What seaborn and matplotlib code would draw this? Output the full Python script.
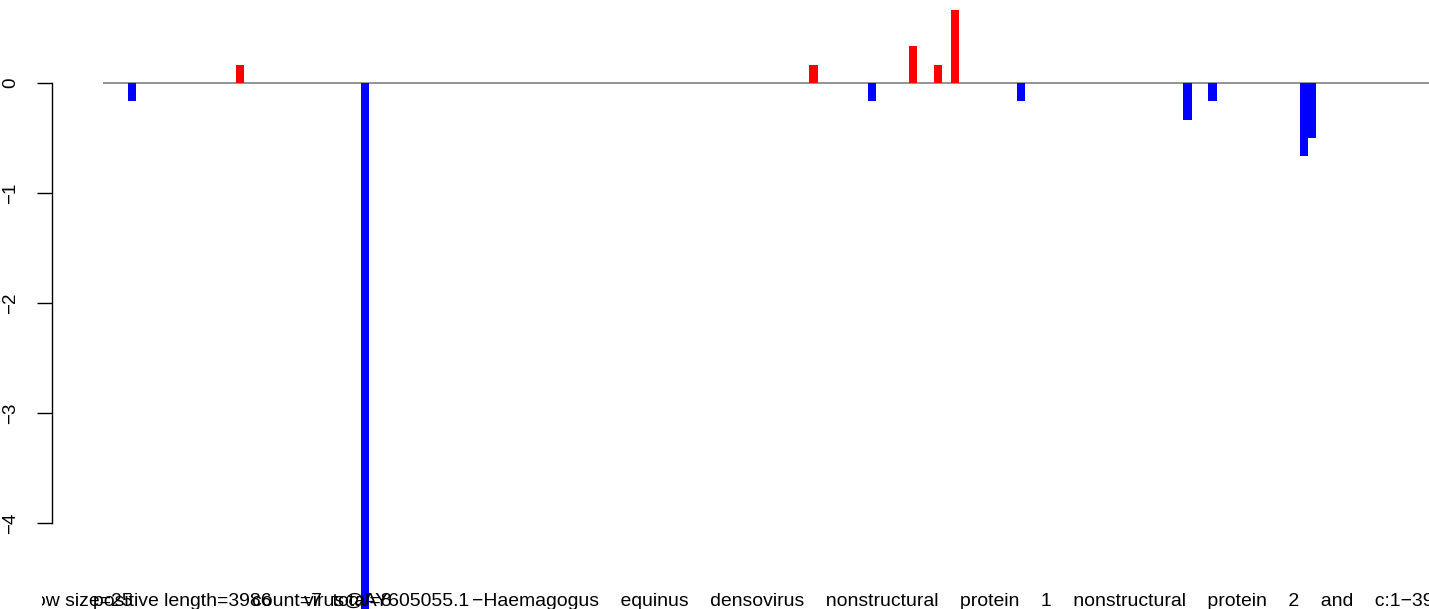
import pandas as pd
import matplotlib
matplotlib.use('Agg')
import matplotlib.pyplot as plt
from matplotlib.transforms import Bbox
import seaborn as sns

# window index and score for every non-zero window
windows = [3, 16, 31, 85, 92, 97, 100, 102, 110, 130, 133, 144, 145]
scores = [-1/6, 1/6, -5.0, 1/6, -1/6, 1/3, 1/6, 2/3, -1/6, -1/3, -1/6, -2/3, -1/2]
yticks = [0, -1, -2, -3, -4]

gap = '    '
# overlapping annotation strings under the plot and their left edge (px)
label_parts = [
    ('window size=25', -5),
    ('positive length=3986', 93),
    ('count=7  total=8', 252),
    ('virus@AY605055.1', 304),
    ('\u2212Haemagogus' + gap + gap.join(
        ['equinus', 'densovirus', 'nonstructural', 'protein', '1', 'nonstructural',
         'protein', '2', 'and', 'c:1\u22123986']), 472),
]

df = pd.DataFrame({'window': windows, 'score': scores})
df['sign'] = ['up' if s > 0 else 'down' for s in df['score']]

sns.set_style('white')
plt.rcParams['font.family'] = ['Liberation Sans', 'DejaVu Sans']

W, H = 1429, 609
fig = plt.figure(figsize=(W / 100, H / 100), dpi=100)
ax = fig.add_axes([0, 0, 1, 1])

# pixel geometry of the original plot: slot 0 starts at x=103, 8.31 px per window
px0, slot = 103, 8.31
xl = -px0 / slot - 0.5
xr = (W - px0) / slot - 0.5
y0, unit = 83, 110

for text, x in label_parts:
    t = fig.text(x / W, (H - 606) / H, text, fontsize=13.95, ha='left', va='baseline',
                 color='black', zorder=1)
    t.set_clip_box(Bbox([[42, 0], [W, H]]))
    t.set_clip_on(True)

ax.hlines(0, -0.5, xr + 5, color='#777777', linewidth=1.1, zorder=2)
sns.barplot(data=df, x='window', y='score', hue='sign',
            palette={'up': '#FF0000', 'down': '#0000FF'}, native_scale=True,
            width=1, saturation=1, linewidth=0, legend=False, ax=ax, zorder=3)

ax.set_xlim(xl, xr)
ax.set_ylim(-(H - y0) / unit, y0 / unit)
ax.patch.set_alpha(0)

for s in ['top', 'right', 'bottom']:
    ax.spines[s].set_visible(False)
ax.spines['left'].set_position(('data', (52 - px0) / slot - 0.5))
ax.spines['left'].set_bounds(-4, 0)
ax.spines['left'].set_color('black')
ax.spines['left'].set_linewidth(1.0)
ax.set_yticks(yticks)
ax.tick_params(axis='y', length=10.8, width=1.0, pad=13, labelsize=13.5,
               labelrotation=90, left=True, colors='black')
for lab in ax.get_yticklabels():
    lab.set_va('center')
ax.set_xticks([])
ax.set_xlabel('')
ax.set_ylabel('')

fig.savefig('out.png', dpi=100)
